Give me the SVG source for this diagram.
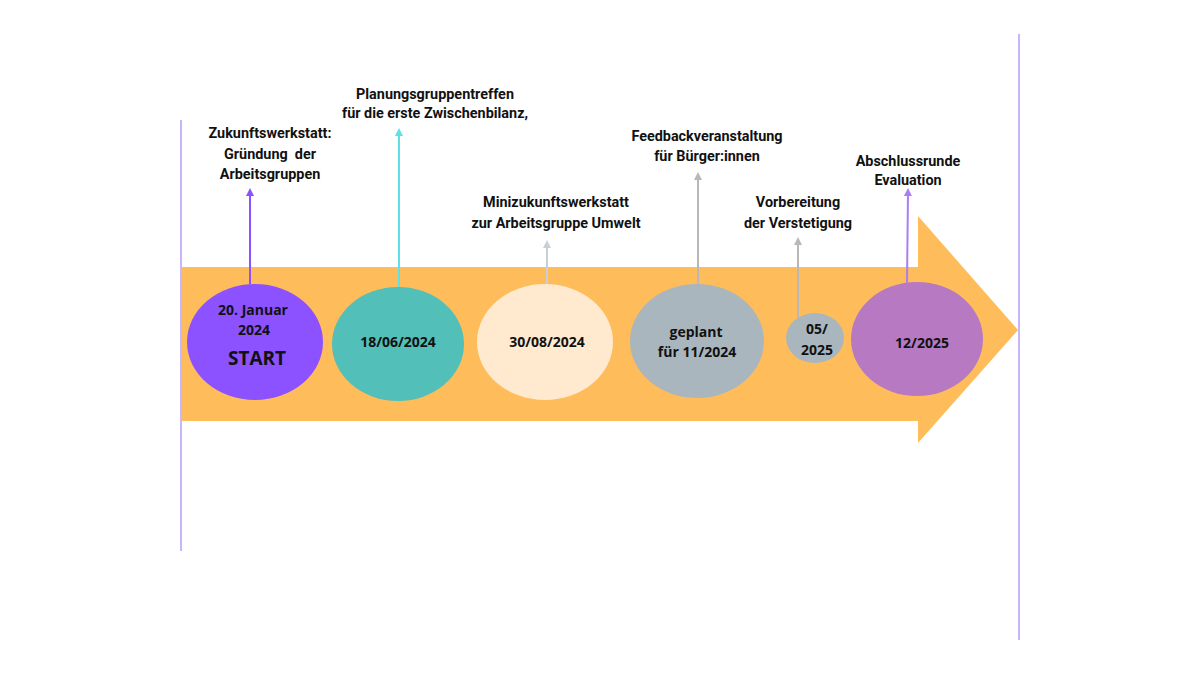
<svg xmlns="http://www.w3.org/2000/svg" width="1200" height="675" viewBox="0 0 1200 675">
<defs>
<style>
.lbl{font-family:Roboto,"Liberation Sans",sans-serif;font-weight:bold;font-size:14.4px;fill:#111;text-anchor:middle}
.in{font-family:"Open Sans","Liberation Sans",sans-serif;font-weight:bold;font-size:14px;fill:#111;text-anchor:middle}
.con{fill:none;stroke-width:2}
</style>
<marker id="ah" viewBox="0 0 10 10" refX="5" refY="5" markerWidth="4" markerHeight="4" orient="auto-start-reverse" markerUnits="strokeWidth">
<path d="M0,0 L10,5 L0,10 z" fill="context-stroke"/>
</marker>
</defs>
<rect width="1200" height="675" fill="#ffffff"/>
<g id="frame">
<line x1="181" y1="120" x2="181" y2="551" stroke="#c9b5fb" stroke-width="2"/>
<line x1="1019" y1="34" x2="1019" y2="640" stroke="#c9b5fb" stroke-width="2"/>
</g>
<g id="arrow">
<path d="M181,267 L918,267 L918,216 L1018,330 L918,443 L918,421 L181,421 Z" fill="#ffbc5a"/>
</g>
<g id="connectors">
<line class="con" x1="250" y1="284" x2="250" y2="192" stroke="#8c52ff" marker-end="url(#ah)"/>
<line class="con" x1="399" y1="288" x2="399" y2="132" stroke="#5ce1e6" marker-end="url(#ah)"/>
<line class="con" x1="547" y1="284" x2="547" y2="244" stroke="#c8d0d6" marker-end="url(#ah)"/>
<line class="con" x1="698" y1="285" x2="698" y2="176" stroke="#b8b8b8" marker-end="url(#ah)"/>
<line class="con" x1="798" y1="318" x2="798" y2="241" stroke="#b8b8b8" marker-end="url(#ah)"/>
<line class="con" x1="907" y1="284" x2="908" y2="192" stroke="#a97ff5" marker-end="url(#ah)"/>
</g>
<g id="n1">
<ellipse cx="255" cy="342" rx="68" ry="58" fill="#8c52ff"/>
<text class="in" x="253" y="315">20. Januar</text>
<text class="in" x="254" y="335">2024</text>
<text class="in" x="257" y="365" style="font-size:19px">START</text>
<text class="lbl" x="270" y="138">Zukunftswerkstatt:</text>
<text class="lbl" x="270" y="159" xml:space="preserve">Gründung  der</text>
<text class="lbl" x="270" y="179">Arbeitsgruppen</text>
</g>
<g id="n2">
<ellipse cx="398" cy="344" rx="66" ry="57" fill="#52bfb8"/>
<text class="in" x="398" y="347">18/06/2024</text>
<text class="lbl" x="435" y="99">Planungsgruppentreffen</text>
<text class="lbl" x="435" y="118">für die erste Zwischenbilanz,</text>
</g>
<g id="n3">
<ellipse cx="545" cy="342" rx="68" ry="58" fill="#ffead0"/>
<text class="in" x="547" y="347">30/08/2024</text>
<text class="lbl" x="556" y="207">Minizukunftswerkstatt</text>
<text class="lbl" x="556" y="228">zur Arbeitsgruppe Umwelt</text>
</g>
<g id="n4">
<ellipse cx="697" cy="341" rx="67" ry="57" fill="#aab6bd"/>
<text class="in" x="696" y="337">geplant</text>
<text class="in" x="697" y="357">für 11/2024</text>
<text class="lbl" x="707" y="141">Feedbackveranstaltung</text>
<text class="lbl" x="707" y="161">für Bürger:innen</text>
</g>
<g id="n5">
<ellipse cx="815" cy="338" rx="29" ry="25" fill="#aab6bd"/>
<text class="in" x="817" y="334">05/</text>
<text class="in" x="817" y="355">2025</text>
<text class="lbl" x="798" y="207">Vorbereitung</text>
<text class="lbl" x="798" y="228">der Verstetigung</text>
</g>
<g id="n6">
<ellipse cx="917" cy="339" rx="66" ry="57" fill="#b679c2"/>
<text class="in" x="922" y="348">12/2025</text>
<text class="lbl" x="908" y="166">Abschlussrunde</text>
<text class="lbl" x="908" y="185">Evaluation</text>
</g>
</svg>
